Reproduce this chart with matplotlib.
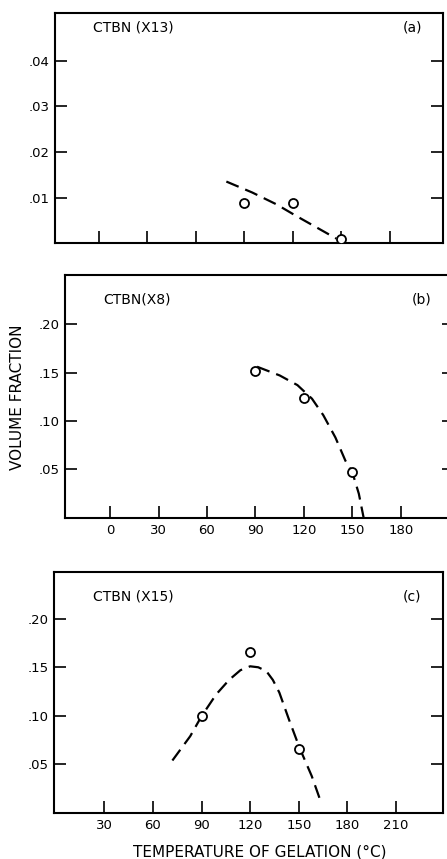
import matplotlib
matplotlib.use("Agg")
import matplotlib.pyplot as plt

# measured points (temperature of gelation, volume fraction)
temp_pts = [90, 120, 150]
vf_a = [0.0088, 0.0089, 0.001]
vf_b = [0.152, 0.124, 0.047]
vf_c = [0.100, 0.166, 0.066]

# hand-drawn dashed trend curves
curve_a_t = [79, 95, 110, 122, 137, 147]
curve_a_v = [0.0135, 0.0111, 0.0085, 0.006, 0.003, 0.001]
curve_b_t = [91, 105, 116, 125, 132, 139.5, 145.7, 150, 154, 157]
curve_b_v = [0.156, 0.147, 0.137, 0.123, 0.106, 0.083, 0.059, 0.047, 0.025, 0.0]
curve_c_t = [72, 83, 90, 99, 107, 114, 120, 125, 130, 134, 138, 144, 150.5, 158, 164]
curve_c_v = [0.054, 0.079, 0.0996, 0.122, 0.137, 0.147, 0.151, 0.150, 0.146, 0.137, 0.124, 0.096, 0.067, 0.038, 0.0097]

xticks_ab = [0, 30, 60, 90, 120, 150, 180]
xticks_c = [30, 60, 90, 120, 150, 180, 210]
yticks_a = [0.01, 0.02, 0.03, 0.04]
ylabels_a = ['.01', '.02', '.03', '.04']
yticks_bc = [0.05, 0.10, 0.15, 0.20]
ylabels_bc = ['.05', '.10', '.15', '.20']

plt.rcParams['font.family'] = ['DejaVu Sans']
fs = 9.5
fs_txt = 10

fig = plt.figure(figsize=(4.47, 8.59), dpi=100)

def style(ax):
    for s in ax.spines.values():
        s.set_linewidth(1.5)
    ax.tick_params(direction='in', length=8.5, width=1.2, labelsize=fs, pad=4,
                   left=True, right=True, top=False, bottom=True)

def draw(ax, ct, cv, pv):
    ax.plot(ct, cv, color='black', lw=1.6, dashes=(6, 3.2), dash_capstyle='butt')
    ax.plot(temp_pts, pv, 'o', ms=6.5, mfc='white', mec='black', mew=1.3, zorder=3)

# panel (a)
ax1 = fig.add_axes([0.123, 0.717, 0.868, 0.268])
draw(ax1, curve_a_t, curve_a_v, vf_a)
ax1.set_xlim(-27, 213)
ax1.set_ylim(0, 0.0505)
ax1.set_xticks(xticks_ab)
ax1.set_xticklabels([])
ax1.set_yticks(yticks_a)
ax1.set_yticklabels(ylabels_a)
style(ax1)
ax1.text(0.098, 0.935, 'CTBN (X13)', transform=ax1.transAxes, fontsize=fs_txt, va='center', ha='left')
ax1.text(0.946, 0.935, '(a)', transform=ax1.transAxes, fontsize=fs_txt, va='center', ha='right')

# panel (b)
ax2 = fig.add_axes([0.145, 0.397, 0.871, 0.283])
draw(ax2, curve_b_t, curve_b_v, vf_b)
ax2.set_xlim(-28, 213)
ax2.set_ylim(0, 0.2507)
ax2.set_xticks(xticks_ab)
ax2.set_xticklabels([str(t) for t in xticks_ab])
ax2.set_yticks(yticks_bc)
ax2.set_yticklabels(ylabels_bc)
style(ax2)
ax2.text(0.098, 0.90, 'CTBN(X8)', transform=ax2.transAxes, fontsize=fs_txt, va='center', ha='left')
ax2.text(0.943, 0.90, '(b)', transform=ax2.transAxes, fontsize=fs_txt, va='center', ha='right')
fig.text(0.04, 0.538, 'VOLUME FRACTION', rotation=90, fontsize=11, ha='center', va='center')

# panel (c)
ax3 = fig.add_axes([0.121, 0.0536, 0.870, 0.2804])
draw(ax3, curve_c_t, curve_c_v, vf_c)
ax3.set_xlim(-1, 239)
ax3.set_ylim(0, 0.248)
ax3.set_xticks(xticks_c)
ax3.set_xticklabels([str(t) for t in xticks_c])
ax3.set_yticks(yticks_bc)
ax3.set_yticklabels(ylabels_bc)
style(ax3)
ax3.text(0.10, 0.90, 'CTBN (X15)', transform=ax3.transAxes, fontsize=fs_txt, va='center', ha='left')
ax3.text(0.943, 0.90, '(c)', transform=ax3.transAxes, fontsize=fs_txt, va='center', ha='right')
fig.text(0.58, 0.0085, 'TEMPERATURE OF GELATION (\u00b0C)', fontsize=11, ha='center', va='center')

fig.savefig('out.png', dpi=100)
